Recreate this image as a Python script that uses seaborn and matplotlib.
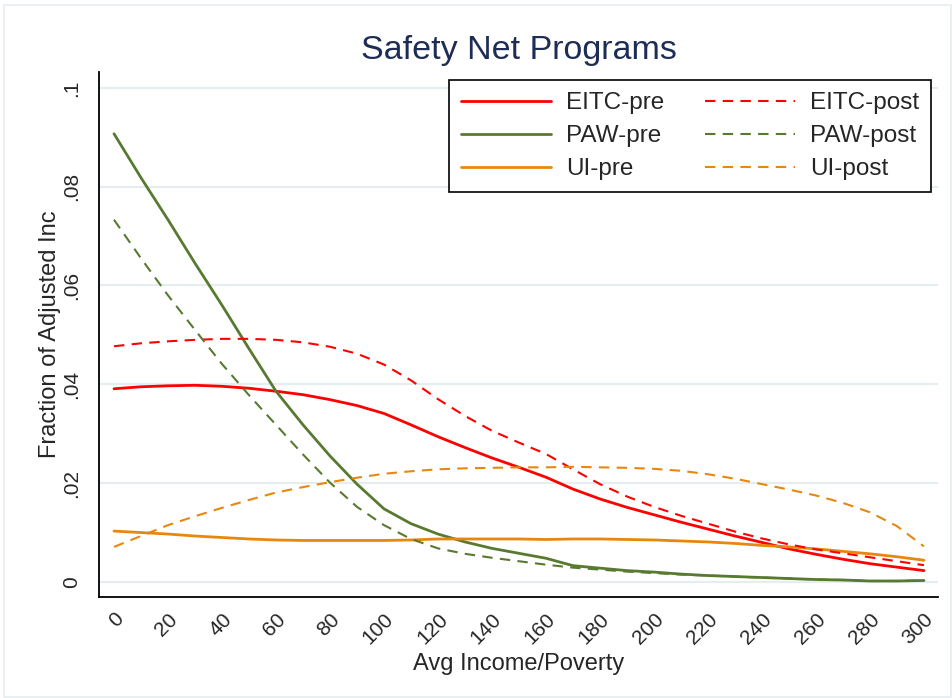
import matplotlib
matplotlib.use("Agg")
import matplotlib.pyplot as plt
import numpy as np
import pandas as pd
import seaborn as sns
from matplotlib.patches import Rectangle

# income/poverty grid (percent)
income = list(range(0, 301, 10))

eitc_pre = [.0391, .0395, .0397, .0398, .0396, .0392, .0386, .0379, .0369, .0357,
            .0341, .0318, .0294, .0272, .0251, .0232, .0212, .0188, .0168, .0151,
            .0136, .0121, .0107, .0093, .0080, .0067, .0056, .0046, .0037, .0030, .0023]
eitc_post = [.0477, .0483, .0487, .0490, .0492, .0492, .0490, .0485, .0476, .0462,
             .0440, .0408, .0370, .0336, .0306, .0282, .0259, .0228, .0198, .0173,
             .0152, .0134, .0118, .0102, .0088, .0076, .0066, .0058, .0050, .0042, .0034]
paw_pre = [.0907, .0818, .0733, .0645, .0560, .0472, .0386, .0318, .0255, .0198,
           .0148, .0118, .0097, .0081, .0068, .0058, .0048, .0033, .0028, .0023,
           .0020, .0016, .0013, .0011, .0009, .0007, .0005, .0004, .0002, .0002, .0003]
paw_post = [.0733, .0655, .0580, .0510, .0441, .0378, .0318, .0258, .0201, .0152,
            .0115, .0087, .0068, .0057, .0049, .0042, .0035, .0029, .0025, .0021,
            .0018, .0015, .0013, .0011, .0009, .0007, .0005, .0004, .0002, .0002, .0003]
ui_pre = [.0103, .0100, .0097, .0093, .0090, .0087, .0085, .0084, .0084, .0084,
          .0084, .0085, .0087, .0087, .0087, .0087, .0086, .0087, .0087, .0086,
          .0085, .0083, .0081, .0078, .0074, .0071, .0067, .0062, .0057, .0051, .0044]
ui_post = [.0071, .0093, .0115, .0133, .0150, .0166, .0181, .0192, .0202, .0211,
           .0219, .0224, .0228, .0230, .0231, .0232, .0232, .0233, .0232, .0231,
           .0229, .0225, .0218, .0209, .0198, .0187, .0175, .0160, .0141, .0113, .0072]

x_ticks = list(range(0, 301, 20))
y_ticks = [0, .02, .04, .06, .08, .1]
y_ticklabels = ["0", ".02", ".04", ".06", ".08", ".1"]

RED = "#ff0000"
GREEN = "#587a30"
ORANGE = "#e8870e"

series = [
    ("EITC-pre", eitc_pre, RED, "-"),
    ("PAW-pre", paw_pre, GREEN, "-"),
    ("UI-pre", ui_pre, ORANGE, "-"),
    ("EITC-post", eitc_post, RED, "--"),
    ("PAW-post", paw_post, GREEN, "--"),
    ("UI-post", ui_post, ORANGE, "--"),
]

sns.set_style("white")
plt.rcParams["font.family"] = ["Liberation Sans", "DejaVu Sans"]

fig = plt.figure(figsize=(9.52, 6.98), dpi=100)
ax = fig.add_axes([99 / 952, 1 - 597 / 698, (938 - 99) / 952, (597 - 72) / 698])

# faint outer graph-region border
fig.patches.append(Rectangle((4 / 952, 1 / 698), 947 / 952, 692 / 698,
                             transform=fig.transFigure, fill=False,
                             edgecolor="#e6eef0", lw=1.2))

for name, vals, color, ls in series:
    df = pd.DataFrame({"income": income, "frac": vals})
    if ls == "-":
        sns.lineplot(data=df, x="income", y="frac", ax=ax, color=color,
                     lw=2.0, label=name)
    else:
        sns.lineplot(data=df, x="income", y="frac", ax=ax, color=color,
                     lw=1.5, dashes=False, label=name)
        ax.lines[-1].set_dashes((5, 3.5))

ax.set_xlim(-5.56, 305.2)
ax.set_ylim(-0.00304, 0.1032)
ax.set_xticks(x_ticks)
ax.set_xticklabels([str(t) for t in x_ticks], rotation=45, ha="right",
                   rotation_mode="anchor", fontsize=15)
ax.set_yticks(y_ticks)
ax.set_yticklabels(y_ticklabels, rotation=90, va="center", fontsize=15)
ax.tick_params(axis="both", length=7, width=1.2, color="black", direction="out")
ax.tick_params(axis="y", pad=6)
ax.tick_params(axis="x", pad=2)

for y in y_ticks:
    ax.axhline(y, color="#e6edf0", lw=1.6, zorder=0)

for side in ["top", "right"]:
    ax.spines[side].set_visible(False)
for side in ["left", "bottom"]:
    ax.spines[side].set_color("black")
    ax.spines[side].set_linewidth(1.3)

ax.set_xlabel("Avg Income/Poverty", fontsize=17, labelpad=4)
ax.set_ylabel("Fraction of Adjusted Inc", fontsize=17, labelpad=1)
ax.set_title("Safety Net Programs", fontsize=24.5, color="#1e2d55", pad=9)

handles, labels = ax.get_legend_handles_labels()
leg = ax.legend(handles, labels, ncol=2, loc="upper right",
                bbox_to_anchor=(0.9917, 0.9848), borderaxespad=0,
                fontsize=17.5, frameon=True, fancybox=False, edgecolor="black",
                handlelength=3.7, handletextpad=0.62, columnspacing=1.65,
                labelspacing=0.45, borderpad=0.5)
leg.get_frame().set_linewidth(1.2)
leg.get_frame().set_alpha(1)

fig.savefig("out.png", dpi=100)
